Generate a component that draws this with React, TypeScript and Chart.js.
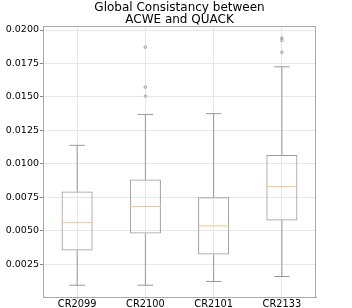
import React, { useEffect, useRef } from "react";
import { Chart, registerables } from "chart.js";

Chart.register(...registerables);

const categories = ["CR2099", "CR2100", "CR2101", "CR2133"];
const whiskerLow = [0.00093, 0.00093, 0.00121, 0.00158];
const q1 = [0.00352, 0.00479, 0.00322, 0.00576];
const median = [0.00561, 0.00681, 0.00536, 0.0083];
const q3 = [0.00793, 0.00882, 0.0075, 0.01066];
const whiskerHigh = [0.01138, 0.01369, 0.01375, 0.01725];
const outlierCategory = ["CR2100", "CR2100", "CR2100", "CR2133", "CR2133", "CR2133"];
const outlierValue = [0.01872, 0.01573, 0.01506, 0.01939, 0.01922, 0.01834];
const yTickValues = [0.0025, 0.005, 0.0075, 0.01, 0.0125, 0.015, 0.0175, 0.02];
const titleLines = ["Global Consistancy between", "ACWE and QUACK"];

const FONT = "'DejaVu Sans', sans-serif";
const BOX_COLOR = "#999999";
const MEDIAN_COLOR = "#ffc58a";
const SPINE = "#aaaaaa";

const boxPlugin = {
  id: "boxWhiskers",
  afterDatasetsDraw(chart: any) {
    const ctx = chart.ctx;
    const xs = chart.scales.x;
    const ys = chart.scales.y;
    const meta = chart.getDatasetMeta(0);
    ctx.save();
    ctx.lineWidth = 1;
    categories.forEach((_, i) => {
      const bar = meta.data[i];
      const cx = xs.getPixelForValue(i);
      const half = bar.width / 2;
      const capHalf = half / 2;
      const yq1 = ys.getPixelForValue(q1[i]);
      const yq3 = ys.getPixelForValue(q3[i]);
      const ylo = ys.getPixelForValue(whiskerLow[i]);
      const yhi = ys.getPixelForValue(whiskerHigh[i]);
      const ymed = ys.getPixelForValue(median[i]);
      ctx.strokeStyle = BOX_COLOR;
      ctx.beginPath();
      ctx.moveTo(cx, yq3);
      ctx.lineTo(cx, yhi);
      ctx.moveTo(cx - capHalf, yhi);
      ctx.lineTo(cx + capHalf, yhi);
      ctx.moveTo(cx, yq1);
      ctx.lineTo(cx, ylo);
      ctx.moveTo(cx - capHalf, ylo);
      ctx.lineTo(cx + capHalf, ylo);
      ctx.stroke();
      ctx.strokeStyle = MEDIAN_COLOR;
      ctx.beginPath();
      ctx.moveTo(cx - half, ymed);
      ctx.lineTo(cx + half, ymed);
      ctx.stroke();
    });
    const a = chart.chartArea;
    ctx.strokeStyle = SPINE;
    ctx.beginPath();
    ctx.moveTo(a.left, a.top + 0.5);
    ctx.lineTo(a.right, a.top + 0.5);
    ctx.moveTo(a.right - 0.5, a.top);
    ctx.lineTo(a.right - 0.5, a.bottom);
    ctx.stroke();
    ctx.restore();
  },
};

export default function App() {
  const ref = useRef<HTMLCanvasElement | null>(null);
  useEffect(() => {
    document.body.style.margin = "0";
    if (!ref.current) return;
    const chart = new Chart(ref.current, {
      type: "bar",
      data: {
        labels: categories,
        datasets: [
          {
            type: "bar",
            data: categories.map((_, i) => [q1[i], q3[i]]),
            backgroundColor: "rgba(0,0,0,0)",
            borderColor: BOX_COLOR,
            borderWidth: 1,
            borderSkipped: false,
            barPercentage: 0.455,
            categoryPercentage: 1,
          } as any,
          {
            type: "scatter",
            data: outlierCategory.map((c, i) => ({ x: c, y: outlierValue[i] })),
            pointRadius: 1.3,
            pointBorderWidth: 0.8,
            pointBackgroundColor: "rgba(0,0,0,0)",
            pointBorderColor: "#888888",
          } as any,
        ],
      },
      options: {
        animation: false,
        responsive: true,
        maintainAspectRatio: false,
        layout: { padding: { top: 0, right: 36, bottom: 0, left: 0 } },
        plugins: {
          legend: { display: false },
          tooltip: { enabled: false },
          title: {
            display: true,
            text: titleLines,
            fullSize: false,
            color: "#000000",
            font: { family: FONT, size: 12, weight: "normal", lineHeight: 1.0 },
            padding: { top: 2, bottom: 0 },
          },
        },
        scales: {
          x: {
            type: "category",
            offset: true,
            grid: { offset: false, color: "#e6e6e6", tickLength: 1, tickColor: "#888888" },
            border: { color: SPINE },
            ticks: { color: "#000000", font: { family: FONT, size: 9.8 }, padding: 0, maxRotation: 0 },
            afterFit(scale: any) {
              scale.height = 10.5;
            },
          },
          y: {
            type: "linear",
            min: 0.00001,
            max: 0.0203,
            grid: { color: "#e6e6e6", tickLength: 3, tickColor: "#888888" },
            border: { color: SPINE },
            ticks: {
              color: "#000000",
              font: { family: FONT, size: 9.5 },
              padding: 1,
              callback: (v: any) => Number(v).toFixed(4),
            },
            afterBuildTicks(scale: any) {
              scale.ticks = yTickValues.map((v) => ({ value: v }));
            },
            afterFit(scale: any) {
              scale.width = 43;
            },
          },
        },
      },
      plugins: [boxPlugin],
    });
    return () => chart.destroy();
  }, []);
  return (
    <div style={{ position: "relative", width: 352, height: 308 }}>
      <canvas ref={ref} />
    </div>
  );
}
